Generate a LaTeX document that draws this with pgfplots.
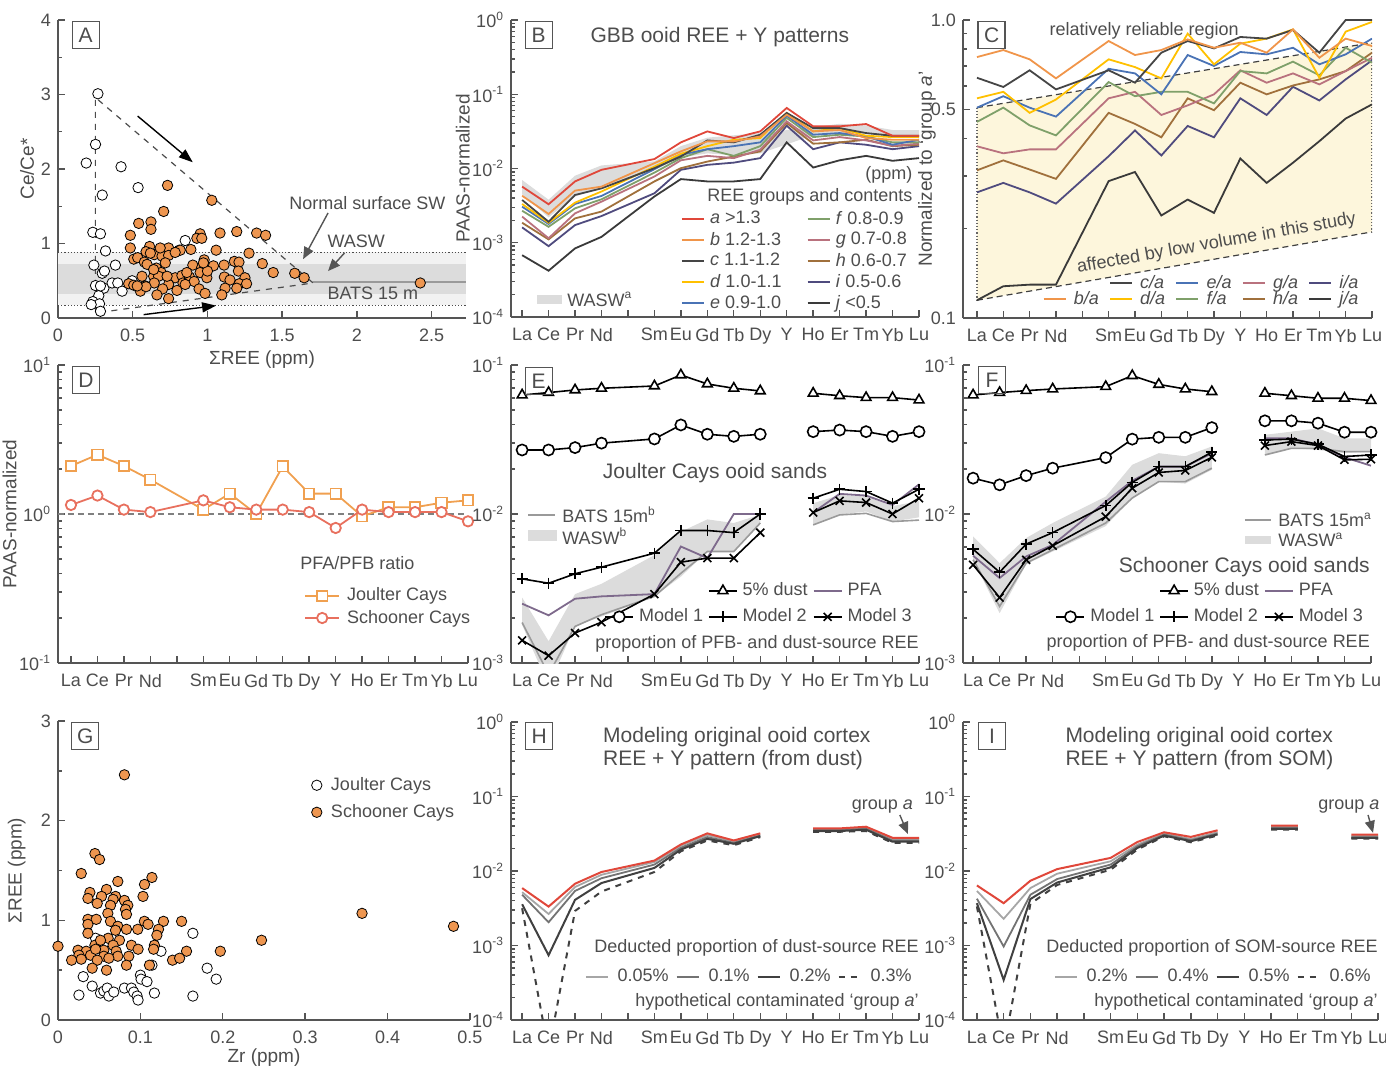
\documentclass[border=0pt]{standalone}
\usepackage{fontspec}
\setmainfont{Liberation Sans}
\usepackage{pgfplots}
\pgfplotsset{compat=1.18}
\usetikzlibrary{arrows.meta}
\definecolor{txt}{HTML}{4D4D4D}
\definecolor{axl}{HTML}{555555}
\definecolor{ca}{HTML}{E0473A}
\definecolor{cb}{HTML}{F0954A}
\definecolor{cc}{HTML}{454545}
\definecolor{cd}{HTML}{FFC000}
\definecolor{ce}{HTML}{4A73B5}
\definecolor{cf}{HTML}{7FA06A}
\definecolor{cg}{HTML}{B9727E}
\definecolor{ch}{HTML}{A0703C}
\definecolor{ci}{HTML}{4F4B7E}
\definecolor{cj}{HTML}{3A3A3A}
\definecolor{wasw}{HTML}{DCDCDC}
\definecolor{cream}{HTML}{FDF6DC}
\definecolor{orng}{HTML}{EE9650}
\definecolor{jc}{HTML}{F0A050}
\definecolor{sc}{HTML}{E8705E}
\definecolor{pfa}{HTML}{7E6A8C}
\definecolor{bats}{HTML}{9A9A9A}

\tikzset{
  tag/.style={draw=axl, line width=0.7pt, minimum size=13.5pt, inner sep=0pt, font=\fontsize{10.5}{12}\selectfont, text=txt},
  note/.style={font=\fontsize{9}{10}\selectfont, text=txt, inner sep=0pt},
  big/.style={font=\fontsize{10.5}{11.5}\selectfont, text=txt, inner sep=0pt},
}
\pgfplotsset{
  /pgf/number format/assume math mode=true,
  panel/.style={scale only axis, clip mode=individual, anchor=north west,
    axis x line*=bottom, axis y line*=left,
    axis line style={draw=axl, line width=0.9pt},
    every tick/.style={draw=axl, line width=0.7pt},
    major tick length=3.5pt, minor tick length=2pt,
    tick label style={font=\fontsize{9}{10}\selectfont, text=txt},
    x tick label style={yshift=-2pt},
    label style={font=\fontsize{9.5}{11}\selectfont, text=txt},
    legend style={draw=none, fill=none, font=\fontsize{9}{10}\selectfont, text=txt,
      nodes={inner sep=0.5pt}, row sep=1.5pt},
    legend cell align=left},
  ylab/.style={ylabel style={at={(axis description cs:#1,0.5)}, anchor=center}},
  xlab/.style={xlabel style={at={(axis description cs:0.5,#1)}, anchor=center}},
  ree/.style={panel, xmax=15, xtick={0,...,15},
    xticklabels={La,Ce,Pr,Nd,,Sm,Eu,Gd,Tb,Dy,Y,Ho,Er,Tm,Yb,Lu},
    unbounded coords=jump,
    yticklabel={10\textsuperscript{\pgfmathparse{int(round(\tick/ln(10)))}\pgfmathresult}}},
  shortleg/.style={legend image code/.code={\draw[##1] (0pt,0pt) -- (11pt,0pt);}},
  medleg/.style={legend image code/.code={\draw[mark repeat=2,mark phase=2,##1] plot coordinates {(0pt,0pt)(7pt,0pt)(14pt,0pt)};}},
  sw/.style={only marks, mark=*, mark size=2.6pt, mark options={draw=black, line width=0.6pt}},
  blk/.style={black, line width=0.8pt, mark size=2.8pt, mark options={solid, fill=white}},
}

\begin{document}
\begin{tikzpicture}
\useasboundingbox (0,0) rectangle (693pt,-534pt);

% ---------------- A ----------------
\begin{axis}[panel, at={(29pt,-10pt)}, width=204pt, height=149pt,
  xmin=0, xmax=2.73, ymin=0, ymax=4,
  xtick={0,0.5,1,1.5,2,2.5}, ytick={0,1,2,3,4}, minor y tick num=1,
  xlabel={ΣREE (ppm)}, ylabel={Ce/Ce*}, ylab=-0.076, xlab=-0.141]
\addplot[fill=black!5, draw=none] coordinates {(0,0.17)(2.73,0.17)(2.73,0.883)(0,0.883)} -- cycle;
\addplot[fill=wasw, draw=none] coordinates {(0,0.327)(2.73,0.327)(2.73,0.73)(0,0.73)} -- cycle;
\addplot[densely dotted, black!70, line width=0.6pt] coordinates {(0,0.883)(2.73,0.883)};
\addplot[densely dotted, black!70, line width=0.6pt] coordinates {(0,0.17)(2.73,0.17)};
\addplot[bats, line width=0.8pt] coordinates {(1.707,0.48)(2.73,0.48)};
\addplot[dashed, black!70, line width=0.6pt] coordinates {(0.25,0.11)(0.25,2.96)(1.707,0.47)(0.28,0.075)};
\addplot[sw, mark options={fill=white}] coordinates {
(0.267,3.01)(0.251,2.33)(0.189,2.08)(0.422,2.03)(0.296,1.65)(0.536,1.75)(0.233,1.15)(0.284,1.13)
(0.318,0.90)(0.851,1.04)(0.811,0.91)(0.24,0.71)(0.384,0.71)(0.296,0.60)(0.311,0.63)(0.251,0.435)
(0.307,0.40)(0.362,0.47)(0.40,0.47)(0.429,0.36)(0.496,0.50)(0.273,0.30)(0.233,0.22)(0.278,0.19)
(0.222,0.18)(0.284,0.09)(0.284,0.43)};
\addplot[sw, mark options={fill=orng}] coordinates {
(0.733,1.78)(1.029,1.58)(0.707,1.43)(0.54,1.27)(0.622,1.29)(0.622,1.19)(0.484,1.11)(0.951,1.13)
(0.929,1.07)(0.962,1.07)(1.084,1.14)(1.196,1.16)(1.329,1.14)(1.389,1.11)(0.484,0.94)(0.613,0.96)
(0.74,0.94)(0.589,0.89)(0.644,0.85)(0.818,0.91)(0.889,0.92)(1.058,0.91)(0.507,0.79)(0.533,0.81)
(0.578,0.75)(0.696,0.83)(0.74,0.84)(0.784,0.88)(1.278,0.87)(1.18,0.76)(1.211,0.75)(0.978,0.78)
(0.902,0.71)(0.962,0.68)(1.04,0.70)(1.111,0.71)(1.367,0.73)(0.658,0.67)(0.596,0.72)(0.69,0.61)
(0.951,0.61)(1.207,0.63)(1.44,0.61)(1.584,0.60)(1.647,0.54)(0.562,0.56)(0.64,0.56)(0.673,0.56)
(0.784,0.54)(0.829,0.57)(0.88,0.55)(0.996,0.54)(1.113,0.55)(1.151,0.51)(1.251,0.54)(0.473,0.46)
(0.507,0.44)(0.584,0.43)(0.644,0.47)(0.74,0.45)(0.836,0.47)(0.911,0.49)(1.213,0.46)(1.262,0.46)
(0.551,0.36)(0.589,0.42)(0.70,0.39)(0.796,0.37)(0.944,0.39)(1.118,0.40)(1.196,0.40)(0.662,0.31)
(0.984,0.33)(1.096,0.31)(0.74,0.26)(2.424,0.47)(0.618,0.87)(0.684,0.94)(0.718,0.74)(0.862,0.61)
(1.0,0.63)(0.64,0.65)(0.73,0.56)(0.53,0.43)(0.851,0.45)(0.973,0.74)};
\draw[-{Triangle[length=7pt,width=5pt]}, line width=0.7pt] (axis cs:0.533,2.71) -- (axis cs:0.902,2.09);
\draw[-{Triangle[length=7pt,width=5pt]}, line width=0.7pt] (axis cs:0.573,0.045) -- (axis cs:1.058,0.166);
\draw[-{Triangle[length=6pt,width=5pt]}, line width=0.7pt, axl] (axis cs:1.807,1.41) -- (axis cs:1.64,0.79);
\draw[-{Triangle[length=6pt,width=5pt]}, line width=0.7pt, axl] (axis cs:1.918,0.875) -- (axis cs:1.807,0.63);
\node[note] at (axis cs:2.07,1.54) {Normal surface SW};
\node[note] at (axis cs:1.996,1.03) {WASW};
\node[note] at (axis cs:2.107,0.33) {BATS 15 m};
\node[tag] at (rel axis cs:0.068,0.95) {A};
\end{axis}

% ---------------- B ----------------
\begin{axis}[ree, shortleg, ymode=log, at={(255.5pt,-10pt)}, width=204pt, height=148.5pt,
  xmin=-0.42, ymin=1e-4, ymax=1, ylabel={PAAS-normalized}, ylab=-0.118,
  legend columns=2, legend style={at={(0.40,0.375)}, anchor=north west,
    /tikz/every even column/.append style={column sep=12pt},
    /tikz/every odd column/.append style={column sep=2pt}}]
\addplot[fill=wasw, draw=none, forget plot] coordinates {(0,7e-3)(1,3.8e-3)(2,8e-3)(3,0.011)(5,0.0125)(6,0.02)(7,0.026)(8,0.028)(9,0.03)(11,0.036)(12,0.04)(13,0.038)(14,0.033)(15,0.033)
(15,0.028)(14,0.027)(13,0.03)(12,0.03)(11,0.028)(9,0.016)(8,0.015)(7,0.016)(6,0.014)(5,0.0095)(3,5.5e-3)(2,4.2e-3)(1,2.2e-3)(0,4.5e-3)} -- cycle;
\addplot[cj, line width=0.9pt, forget plot] coordinates {(0,6.8e-4)(1,4.2e-4)(2,8.4e-4)(3,1.2e-3)(5,4.2e-3)(6,7.2e-3)(7,6.7e-3)(8,6.7e-3)(9,7.2e-3)(10,0.0225)(11,0.0103)(12,0.0129)(13,0.0148)(14,0.0127)(15,0.0138)};
\addplot[ci, line width=0.9pt, forget plot] coordinates {(0,1.61e-3)(1,9.0e-4)(2,1.73e-3)(3,2.29e-3)(5,4.64e-3)(6,9.6e-3)(7,0.0112)(8,0.012)(9,0.0138)(10,0.0377)(11,0.0182)(12,0.0225)(13,0.0209)(14,0.0182)(15,0.02)};
\addplot[ch, line width=0.9pt, forget plot] coordinates {(0,1.86e-3)(1,1.11e-3)(2,2.13e-3)(3,2.63e-3)(5,6.7e-3)(6,0.0101)(7,0.0124)(8,0.0145)(9,0.017)(10,0.041)(11,0.0216)(12,0.0225)(13,0.0244)(14,0.02)(15,0.0209)};
\addplot[cg, line width=0.9pt, forget plot] coordinates {(0,2.25e-3)(1,1.15e-3)(2,2.49e-3)(3,3.58e-3)(5,7.8e-3)(6,0.0129)(7,0.0148)(8,0.0138)(9,0.0179)(10,0.0432)(11,0.0239)(12,0.0265)(13,0.0239)(14,0.0202)(15,0.0216)};
\addplot[cf, line width=0.9pt, forget plot] coordinates {(0,2.7e-3)(1,1.64e-3)(2,2.91e-3)(3,3.85e-3)(5,8.8e-3)(6,0.0138)(7,0.0182)(8,0.0148)(9,0.02)(10,0.048)(11,0.0265)(12,0.0285)(13,0.027)(14,0.0225)(15,0.0225)};
\addplot[ce, line width=0.9pt, forget plot] coordinates {(0,3.06e-3)(1,1.79e-3)(2,3.33e-3)(3,4.27e-3)(5,0.0098)(6,0.0153)(7,0.0182)(8,0.02)(9,0.0225)(10,0.0515)(11,0.0285)(12,0.03)(13,0.027)(14,0.0209)(15,0.0244)};
\addplot[cd, line width=0.9pt, forget plot] coordinates {(0,3.33e-3)(1,1.86e-3)(2,3.47e-3)(3,4.9e-3)(5,0.0106)(6,0.0158)(7,0.02)(8,0.0244)(9,0.0257)(10,0.056)(11,0.0316)(12,0.035)(13,0.0276)(14,0.0265)(15,0.0265)};
\addplot[cc, line width=0.9pt, forget plot] coordinates {(0,3.77e-3)(1,1.92e-3)(2,4.4e-3)(3,5.4e-3)(5,0.0101)(6,0.0145)(7,0.0239)(8,0.0225)(9,0.0285)(10,0.056)(11,0.035)(12,0.035)(13,0.03)(14,0.0276)(15,0.0276)};
\addplot[cb, line width=0.9pt, forget plot] coordinates {(0,4.3e-3)(1,2.44e-3)(2,5.04e-3)(3,5.7e-3)(5,0.0118)(6,0.017)(7,0.0232)(8,0.0232)(9,0.027)(10,0.0531)(11,0.0316)(12,0.033)(13,0.0257)(14,0.0244)(15,0.0244)};
\addplot[ca, line width=0.9pt, forget plot] coordinates {(0,5.7e-3)(1,3.3e-3)(2,6.7e-3)(3,9.6e-3)(5,0.0134)(6,0.0225)(7,0.0316)(8,0.0257)(9,0.0316)(10,0.0654)(11,0.037)(12,0.037)(13,0.0397)(14,0.0276)(15,0.0276)};
\addlegendimage{ca, line width=1.2pt}\addlegendentry{\textit{a} >1.3}
\addlegendimage{cf, line width=1.2pt}\addlegendentry{\textit{f} 0.8-0.9}
\addlegendimage{cb, line width=1.2pt}\addlegendentry{\textit{b} 1.2-1.3}
\addlegendimage{cg, line width=1.2pt}\addlegendentry{\textit{g} 0.7-0.8}
\addlegendimage{cc, line width=1.2pt}\addlegendentry{\textit{c} 1.1-1.2}
\addlegendimage{ch, line width=1.2pt}\addlegendentry{\textit{h} 0.6-0.7}
\addlegendimage{cd, line width=1.2pt}\addlegendentry{\textit{d} 1.0-1.1}
\addlegendimage{ci, line width=1.2pt}\addlegendentry{\textit{i} 0.5-0.6}
\addlegendimage{ce, line width=1.2pt}\addlegendentry{\textit{e} 0.9-1.0}
\addlegendimage{cj, line width=1.2pt}\addlegendentry{\textit{j} <0.5}
\node[big] at (rel axis cs:0.512,0.943) {GBB ooid REE + Y patterns};
\node[note, anchor=east] at (rel axis cs:0.985,0.48) {(ppm)};
\node[note, anchor=east] at (rel axis cs:0.985,0.406) {REE groups and contents};
\fill[wasw] (rel axis cs:0.064,0.044) rectangle (rel axis cs:0.125,0.074);
\node[note, anchor=west] at (rel axis cs:0.137,0.059) {WASW\textsuperscript{a}};
\node[tag] at (rel axis cs:0.068,0.95) {B};
\end{axis}

% ---------------- C ----------------
\begin{axis}[ree, shortleg, ymode=log, at={(481.5pt,-10pt)}, width=204.5pt, height=149pt,
  xmin=-0.53, ymin=0.1, ymax=1, ytick={0.1,0.5,1}, yticklabels={0.1,0.5,1.0},
  minor ytick={0.2,0.3,0.4,0.6,0.7,0.8,0.9}, ylabel={Normalized to ‘group \textit{a}’}, ylab=-0.088,
  legend columns=5, legend style={at={(0.985,0.018)}, anchor=south east, row sep=-1pt,
    /tikz/every even column/.append style={column sep=4.5pt},
    /tikz/every odd column/.append style={column sep=3pt}}]
\addplot[fill=cream, draw=none, forget plot] coordinates {(0,0.508)(15,0.839)(15,0.1945)(0,0.1147)} -- cycle;
\addplot[densely dashed, black!75, line width=0.6pt, forget plot] coordinates {(0,0.508)(15,0.839)};
\addplot[densely dashed, black!75, line width=0.6pt, forget plot] coordinates {(0,0.1147)(15,0.1945)};
\addplot[densely dotted, black!60, line width=0.6pt, forget plot] coordinates {(0,0.508)(0,0.1147)};
\addplot[densely dotted, black!60, line width=0.6pt, forget plot] coordinates {(15,0.839)(15,0.1945)};
\addplot[cj, line width=0.9pt, forget plot] coordinates {(0,0.1147)(1,0.1278)(2,0.1294)(3,0.1294)(5,0.288)(6,0.309)(7,0.2208)(8,0.2497)(9,0.2253)(10,0.343)(11,0.284)(12,0.332)(13,0.392)(14,0.467)(15,0.521)};
\addplot[ci, line width=0.9pt, forget plot] coordinates {(0,0.264)(1,0.284)(2,0.264)(3,0.242)(5,0.349)(6,0.426)(7,0.351)(8,0.441)(9,0.404)(10,0.546)(11,0.480)(12,0.597)(13,0.537)(14,0.632)(15,0.732)};
\addplot[ch, line width=0.9pt, forget plot] coordinates {(0,0.313)(1,0.338)(2,0.315)(3,0.293)(5,0.488)(6,0.448)(7,0.404)(8,0.546)(9,0.498)(10,0.616)(11,0.563)(12,0.603)(13,0.632)(14,0.674)(15,0.777)};
\addplot[cg, line width=0.9pt, forget plot] coordinates {(0,0.377)(1,0.357)(2,0.368)(3,0.368)(5,0.546)(6,0.574)(7,0.480)(8,0.517)(9,0.563)(10,0.678)(11,0.616)(12,0.662)(13,0.608)(14,0.674)(15,0.747)};
\addplot[cf, line width=0.9pt, forget plot] coordinates {(0,0.455)(1,0.508)(2,0.443)(3,0.410)(5,0.619)(6,0.555)(7,0.574)(8,0.574)(9,0.525)(10,0.674)(11,0.662)(12,0.725)(13,0.652)(14,0.807)(15,0.719)};
\addplot[ce, line width=0.9pt, forget plot] coordinates {(0,0.508)(1,0.555)(2,0.508)(3,0.474)(5,0.686)(6,0.662)(7,0.563)(8,0.763)(9,0.701)(10,0.781)(11,0.767)(12,0.807)(13,0.710)(14,0.767)(15,0.866)};
\addplot[cd, line width=0.9pt, forget plot] coordinates {(0,0.546)(1,0.574)(2,0.488)(3,0.541)(5,0.738)(6,0.695)(7,0.637)(8,0.900)(9,0.710)(10,0.833)(11,0.866)(12,0.930)(13,0.640)(14,0.914)(15,0.985)};
\addplot[cc, line width=0.9pt, forget plot] coordinates {(0,0.640)(1,0.596)(2,0.678)(3,0.585)(5,0.678)(6,0.616)(7,0.777)(8,0.850)(9,0.803)(10,0.877)(11,0.866)(12,0.926)(13,0.777)(14,1.0)(15,1.0)};
\addplot[cb, line width=0.9pt, forget plot] coordinates {(0,0.751)(1,0.793)(2,0.738)(3,0.637)(5,0.850)(6,0.763)(7,0.793)(8,0.861)(9,0.807)(10,0.839)(11,0.777)(12,0.930)(13,0.747)(14,0.866)(15,0.818)};
\addlegendimage{empty legend}\addlegendentry{}
\addlegendimage{cc, line width=1.2pt}\addlegendentry{\textit{c/a}}
\addlegendimage{ce, line width=1.2pt}\addlegendentry{\textit{e/a}}
\addlegendimage{cg, line width=1.2pt}\addlegendentry{\textit{g/a}}
\addlegendimage{ci, line width=1.2pt}\addlegendentry{\textit{i/a}}
\addlegendimage{cb, line width=1.2pt}\addlegendentry{\textit{b/a}}
\addlegendimage{cd, line width=1.2pt}\addlegendentry{\textit{d/a}}
\addlegendimage{cf, line width=1.2pt}\addlegendentry{\textit{f/a}}
\addlegendimage{ch, line width=1.2pt}\addlegendentry{\textit{h/a}}
\addlegendimage{cj, line width=1.2pt}\addlegendentry{\textit{j/a}}
\node[note] at (rel axis cs:0.443,0.963) {relatively reliable region};
\node[note, rotate=10] at (rel axis cs:0.62,0.25) {affected by low volume in this study};
\node[tag] at (rel axis cs:0.07,0.95) {C};
\end{axis}

% ---------------- D ----------------
\begin{axis}[ree, ymode=log, at={(29pt,-182.5pt)}, width=205pt, height=149pt,
  xmin=-0.49, ymin=0.1, ymax=10, ylabel={PAAS-normalized}, ylab=-0.118,
  legend style={at={(0.585,0.27)}, anchor=north west, row sep=2pt,
    /tikz/every odd column/.append style={column sep=3pt}}]
\addplot[densely dashed, gray, line width=0.7pt, forget plot] coordinates {(-0.49,1)(15,1)};
\addplot[jc, line width=0.9pt, mark=square*, mark size=2.6pt, mark options={fill=white, solid}] coordinates {(0,2.10)(1,2.50)(2,2.10)(3,1.70)(5,1.07)(6,1.37)(7,1.0)(8,2.09)(9,1.37)(10,1.37)(11,0.965)(12,1.11)(13,1.11)(14,1.19)(15,1.235)};
\addlegendentry{Joulter Cays}
\addplot[sc, line width=0.9pt, mark=*, mark size=2.6pt, mark options={fill=white, solid}] coordinates {(0,1.15)(1,1.33)(2,1.07)(3,1.03)(5,1.235)(6,1.11)(7,1.07)(8,1.07)(9,1.03)(10,0.806)(11,1.07)(12,1.03)(13,1.03)(14,1.03)(15,0.893)};
\addlegendentry{Schooner Cays}
\node[note] at (rel axis cs:0.73,0.336) {PFA/PFB ratio};
\node[tag] at (rel axis cs:0.068,0.95) {D};
\end{axis}

% ---------------- E ----------------
\begin{axis}[ree, medleg, ymode=log, at={(255.5pt,-182.5pt)}, width=204pt, height=149pt,
  xmin=-0.42, ymin=1e-3, ymax=0.1,
  legend columns=3, legend style={at={(1,0.11)}, anchor=south east, row sep=4pt,
    /tikz/every even column/.append style={column sep=2pt},
    /tikz/every odd column/.append style={column sep=2pt}}]
\addplot[fill=wasw, draw=none, forget plot] coordinates {(0,2.75e-3)(1,1.4e-3)(2,2.9e-3)(3,3.4e-3)(5,5.3e-3)(6,7.6e-3)(7,9.2e-3)(8,8.7e-3)(9,9.9e-3)(9,8.6e-3)(8,5.6e-3)(7,5.6e-3)(6,3.8e-3)(5,2.8e-3)(3,2.05e-3)(2,1.77e-3)(1,7e-4)(0,1.8e-3)} -- cycle;
\addplot[fill=wasw, draw=none, forget plot] coordinates {(11,0.0118)(12,0.0134)(13,0.0131)(14,0.0113)(15,0.0122)(15,9.5e-3)(14,8.9e-3)(13,0.0104)(12,9.9e-3)(11,8.5e-3)} -- cycle;
\addplot[bats, line width=0.8pt, forget plot] coordinates {(0,1.87e-3)(1,8.4e-4)(2,1.76e-3)(3,2.11e-3)(5,2.8e-3)(6,4.0e-3)(7,5.6e-3)(8,5.6e-3)(9,8.7e-3)(10,nan)(11,8.45e-3)(12,9.86e-3)(13,0.0101)(14,8.9e-3)(15,9.1e-3)};
\addplot[pfa, line width=0.9pt, forget plot] coordinates {(0,2.5e-3)(1,2.09e-3)(2,2.7e-3)(3,2.8e-3)(5,2.9e-3)(6,6.05e-3)(7,5.06e-3)(8,0.01)(9,0.01)(10,nan)(11,0.01023)(12,0.01365)(13,0.0133)(14,0.0115)(15,0.0158)};
\addplot[blk, mark=triangle*, forget plot] coordinates {(0,0.0629)(1,0.0653)(2,0.068)(3,0.0698)(5,0.0723)(6,0.0857)(7,0.0746)(8,0.0698)(9,0.067)(10,nan)(11,0.0646)(12,0.0622)(13,0.0604)(14,0.0604)(15,0.0582)};
\addplot[blk, mark=*, forget plot] coordinates {(0,0.0269)(1,0.0269)(2,0.0279)(3,0.0299)(5,0.0319)(6,0.0396)(7,0.0343)(8,0.0332)(9,0.0343)(10,nan)(11,0.0357)(12,0.0366)(13,0.0357)(14,0.0332)(15,0.0357)};
\addplot[blk, mark=+, forget plot] coordinates {(0,3.67e-3)(1,3.43e-3)(2,3.97e-3)(3,4.4e-3)(5,5.46e-3)(6,7.75e-3)(7,7.75e-3)(8,7.5e-3)(9,0.01)(10,nan)(11,0.01276)(12,0.01466)(13,0.01415)(14,0.01183)(15,0.01466)};
\addplot[blk, mark=x, forget plot] coordinates {(0,1.42e-3)(1,1.12e-3)(2,1.59e-3)(3,1.88e-3)(5,2.9e-3)(6,4.75e-3)(7,5.06e-3)(8,5.06e-3)(9,7.5e-3)(10,nan)(11,0.01023)(12,0.01225)(13,0.01194)(14,0.01)(15,0.01276)};
\addlegendimage{empty legend}\addlegendentry{}
\addlegendimage{blk, mark=triangle*}\addlegendentry{5\% dust}
\addlegendimage{pfa, line width=0.9pt}\addlegendentry{PFA}
\addlegendimage{blk, mark=*}\addlegendentry{Model 1}
\addlegendimage{blk, mark=+}\addlegendentry{Model 2}
\addlegendimage{blk, mark=x}\addlegendentry{Model 3}
\node[big] at (rel axis cs:0.5,0.638) {Joulter Cays ooid sands};
\draw[bats, line width=0.8pt] (rel axis cs:0.042,0.497) -- (rel axis cs:0.108,0.497);
\node[note, anchor=west] at (rel axis cs:0.125,0.497) {BATS 15m\textsuperscript{b}};
\fill[wasw] (rel axis cs:0.042,0.41) rectangle (rel axis cs:0.112,0.445);
\node[note, anchor=west] at (rel axis cs:0.125,0.425) {WASW\textsuperscript{b}};
\node[note, anchor=east] at (rel axis cs:1,0.064) {proportion of PFB- and dust-source REE};
\node[tag] at (rel axis cs:0.068,0.946) {E};
\end{axis}

% ---------------- F ----------------
\begin{axis}[ree, medleg, ymode=log, at={(481.5pt,-182.5pt)}, width=204pt, height=149pt,
  xmin=-0.38, ymin=1e-3, ymax=0.1,
  legend columns=3, legend style={at={(0.998,0.11)}, anchor=south east, row sep=4pt,
    /tikz/every even column/.append style={column sep=2pt},
    /tikz/every odd column/.append style={column sep=2pt}}]
\addplot[fill=wasw, draw=none, forget plot] coordinates {(0,7.07e-3)(1,4.68e-3)(2,6.9e-3)(3,8.7e-3)(5,0.0131)(6,0.0214)(7,0.0256)(8,0.0244)(9,0.0284)(9,0.0198)(8,0.016)(7,0.0165)(6,0.0128)(5,8.3e-3)(3,5.6e-3)(2,4.6e-3)(1,2.16e-3)(0,4.93e-3)} -- cycle;
\addplot[fill=wasw, draw=none, forget plot] coordinates {(11,0.034)(12,0.0357)(13,0.0376)(14,0.0322)(15,0.0322)(15,0.0262)(14,0.0256)(13,0.0269)(12,0.0276)(11,0.0249)} -- cycle;
\addplot[bats, line width=0.8pt, forget plot] coordinates {(0,4.93e-3)(1,2.4e-3)(2,4.68e-3)(3,5.75e-3)(5,8.7e-3)(6,0.0128)(7,0.0165)(8,0.0165)(9,0.0203)(10,nan)(11,0.0249)(12,0.0276)(13,0.0276)(14,0.0262)(15,0.0262)};
\addplot[pfa, line width=0.9pt, forget plot] coordinates {(0,5.25e-3)(1,3.72e-3)(2,5.19e-3)(3,6.2e-3)(5,0.0121)(6,0.0167)(7,0.0208)(8,0.0208)(9,0.0256)(10,nan)(11,0.0322)(12,0.0322)(13,0.0292)(14,0.024)(15,0.0211)};
\addplot[blk, mark=triangle*, forget plot] coordinates {(0,0.0629)(1,0.0653)(2,0.0673)(3,0.069)(5,0.0716)(6,0.0848)(7,0.0741)(8,0.069)(9,0.0662)(10,nan)(11,0.0646)(12,0.0622)(13,0.0598)(14,0.0598)(15,0.0577)};
\addplot[blk, mark=*, forget plot] coordinates {(0,0.0174)(1,0.0157)(2,0.0181)(3,0.0203)(5,0.0239)(6,0.0318)(7,0.0327)(8,0.0327)(9,0.038)(10,nan)(11,0.0422)(12,0.0422)(13,0.0407)(14,0.0354)(15,0.0354)};
\addplot[blk, mark=+, forget plot] coordinates {(0,5.8e-3)(1,4.07e-3)(2,6.28e-3)(3,7.5e-3)(5,0.0114)(6,0.0163)(7,0.0208)(8,0.0208)(9,0.026)(10,nan)(11,0.0314)(12,0.0318)(13,0.0294)(14,0.0243)(15,0.0249)};
\addplot[blk, mark=x, forget plot] coordinates {(0,4.56e-3)(1,2.75e-3)(2,4.93e-3)(3,6.12e-3)(5,9.6e-3)(6,0.0149)(7,0.019)(8,0.0196)(9,0.024)(10,nan)(11,0.0288)(12,0.0306)(13,0.0288)(14,0.0231)(15,0.0233)};
\addlegendimage{empty legend}\addlegendentry{}
\addlegendimage{blk, mark=triangle*}\addlegendentry{5\% dust}
\addlegendimage{pfa, line width=0.9pt}\addlegendentry{PFA}
\addlegendimage{blk, mark=*}\addlegendentry{Model 1}
\addlegendimage{blk, mark=+}\addlegendentry{Model 2}
\addlegendimage{blk, mark=x}\addlegendentry{Model 3}
\node[big, anchor=east] at (rel axis cs:0.998,0.322) {Schooner Cays ooid sands};
\draw[bats, line width=0.8pt] (rel axis cs:0.691,0.48) -- (rel axis cs:0.755,0.48);
\node[note, anchor=west] at (rel axis cs:0.772,0.48) {BATS 15m\textsuperscript{a}};
\fill[wasw] (rel axis cs:0.691,0.40) rectangle (rel axis cs:0.755,0.426);
\node[note, anchor=west] at (rel axis cs:0.772,0.413) {WASW\textsuperscript{a}};
\node[note, anchor=east] at (rel axis cs:0.998,0.068) {proportion of PFB- and dust-source REE};
\node[tag] at (rel axis cs:0.071,0.95) {F};
\end{axis}

% ---------------- G ----------------
\begin{axis}[panel, at={(29pt,-360.5pt)}, width=206pt, height=149.5pt,
  xmin=0, xmax=0.5, ymin=0, ymax=3, xtick={0,0.1,0.2,0.3,0.4,0.5}, ytick={0,1,2,3}, minor y tick num=1,
  xlabel={Zr (ppm)}, ylabel={ΣREE (ppm)}, ylab=-0.1, xlab=-0.127,
  legend style={at={(0.6,0.83)}, anchor=north west, row sep=4.5pt,
    /tikz/every odd column/.append style={column sep=4pt}}]
\addplot[sw, mark options={fill=white}] coordinates {
(0.1637,0.87)(0.0456,0.82)(0.125,0.69)(0.114,0.55)(0.181,0.52)(0.192,0.41)(0.1,0.45)(0.1008,0.41)
(0.108,0.385)(0.0306,0.435)(0.0415,0.34)(0.0254,0.25)(0.0516,0.27)(0.0556,0.29)(0.0597,0.32)(0.0617,0.24)
(0.0677,0.28)(0.0806,0.32)(0.0891,0.32)(0.0919,0.28)(0.096,0.24)(0.0972,0.20)(0.117,0.27)(0.1637,0.24)};
\addlegendentry{Joulter Cays}
\addplot[sw, mark options={fill=orng}] coordinates {
(0.0806,2.46)(0.0448,1.67)(0.0504,1.61)(0.0282,1.47)(0.114,1.43)(0.0726,1.39)(0.105,1.36)(0.0387,1.28)
(0.0589,1.31)(0.0363,1.22)(0.0528,1.24)(0.0698,1.24)(0.0669,1.21)(0.1032,1.24)(0.0806,1.20)(0.0476,1.17)
(0.0637,1.15)(0.0847,1.15)(0.0819,1.11)(0.0605,1.07)(0.0831,1.06)(0.0363,1.01)(0.0464,1.01)(0.1048,0.99)
(0.1093,0.96)(0.128,0.99)(0.150,0.99)(0.0363,0.96)(0.0637,0.99)(0.0726,0.94)(0.0698,0.90)(0.0968,0.91)
(0.0831,0.91)(0.122,0.91)(0.0363,0.87)(0.12,0.85)(0.0609,0.82)(0.0746,0.80)(0.0448,0.75)(0.0669,0.75)
(0.0891,0.75)(0.117,0.75)(0,0.74)(0.0242,0.70)(0.0343,0.69)(0.0556,0.70)(0.0706,0.69)(0.0972,0.71)
(0.116,0.71)(0.156,0.69)(0.197,0.69)(0.0254,0.65)(0.0395,0.65)(0.0556,0.64)(0.0726,0.64)(0.0859,0.64)
(0.0282,0.61)(0.0617,0.62)(0.0165,0.60)(0.0476,0.60)(0.139,0.60)(0.1476,0.62)(0.0831,0.55)(0.111,0.55)
(0.0415,0.52)(0.0589,0.50)(0.247,0.80)(0.369,1.07)(0.48,0.94)(0.0456,0.71)(0.0516,0.80)};
\addlegendentry{Schooner Cays}
\node[tag] at (rel axis cs:0.066,0.95) {G};
\end{axis}

% ---------------- H ----------------
\begin{axis}[ree, shortleg, ymode=log, at={(255.5pt,-361pt)}, width=204pt, height=149pt,
  xmin=-0.42, ymin=1e-4, ymax=1,
  legend columns=4, legend style={at={(1,0.145)}, anchor=east,
    /tikz/every even column/.append style={column sep=3pt},
    /tikz/every odd column/.append style={column sep=4pt}}]
\addplot[black!35, line width=0.9pt] coordinates {(0,5.2e-3)(1,2.65e-3)(2,6.1e-3)(3,8.9e-3)(5,0.0132)(6,0.0218)(7,0.0303)(8,0.0251)(9,0.031)(10,nan)(11,0.0365)(12,0.0365)(13,0.038)(14,0.027)(15,0.027)};
\addlegendentry{0.05\%}
\addplot[black!55, line width=0.9pt] coordinates {(0,4.8e-3)(1,2.05e-3)(2,5.4e-3)(3,8.0e-3)(5,0.0122)(6,0.0205)(7,0.0285)(8,0.0239)(9,0.0299)(10,nan)(11,0.0355)(12,0.0355)(13,0.0369)(14,0.0256)(15,0.0256)};
\addlegendentry{0.1\%}
\addplot[black!75, line width=1pt] coordinates {(0,3.58e-3)(1,7.4e-4)(2,4.1e-3)(3,6.9e-3)(5,0.011)(6,0.0194)(7,0.027)(8,0.0232)(9,0.0294)(10,nan)(11,0.0344)(12,0.0344)(13,0.0358)(14,0.0247)(15,0.0247)};
\addlegendentry{0.2\%}
\addplot[black!75, dashed, line width=1pt] coordinates {(0,3.16e-3)(1,3.8e-5)(2,2.91e-3)(3,5.3e-3)(5,9.7e-3)(6,0.0184)(7,0.0257)(8,0.0222)(9,0.0285)(10,nan)(11,0.0336)(12,0.0336)(13,0.0344)(14,0.0239)(15,0.0239)};
\addlegendentry{0.3\%}
\addplot[ca, line width=1pt, forget plot] coordinates {(0,5.9e-3)(1,3.33e-3)(2,6.75e-3)(3,9.7e-3)(5,0.0138)(6,0.0227)(7,0.032)(8,0.0257)(9,0.032)(10,nan)(11,0.0373)(12,0.0373)(13,0.0393)(14,0.0279)(15,0.0279)};
\node[big, align=left, anchor=north west] at (rel axis cs:0.225,0.985) {Modeling original ooid cortex\\REE + Y pattern (from dust)};
\node[note] at (rel axis cs:0.91,0.715) {group \textit{a}};
\draw[-{Triangle[length=6pt,width=5pt]}, line width=0.7pt, axl] (rel axis cs:0.953,0.688) -- (rel axis cs:0.973,0.624);
\node[note, anchor=east] at (rel axis cs:1,0.242) {Deducted proportion of dust-source REE};
\node[note, anchor=east] at (rel axis cs:1,0.06) {hypothetical contaminated ‘group \textit{a}’};
\node[tag] at (rel axis cs:0.069,0.953) {H};
\end{axis}

% ---------------- I ----------------
\begin{axis}[ree, shortleg, ymode=log, at={(481.5pt,-361pt)}, width=207.5pt, height=149pt,
  xmin=-0.52, ymin=1e-4, ymax=1,
  legend columns=4, legend style={at={(1,0.145)}, anchor=east,
    /tikz/every even column/.append style={column sep=3pt},
    /tikz/every odd column/.append style={column sep=4pt}}]
\addplot[black!35, line width=0.9pt] coordinates {(0,5.4e-3)(1,2.28e-3)(2,5.9e-3)(3,9.2e-3)(5,0.0135)(6,0.0226)(7,0.0318)(8,0.0269)(9,0.0331)(10,nan)(11,0.039)(12,0.039)(13,nan)(14,0.0295)(15,0.0295)};
\addlegendentry{0.2\%}
\addplot[black!55, line width=0.9pt] coordinates {(0,4.25e-3)(1,9.7e-4)(2,4.8e-3)(3,7.8e-3)(5,0.0122)(6,0.0215)(7,0.0308)(8,0.0259)(9,0.0318)(10,nan)(11,0.0379)(12,0.0379)(13,nan)(14,0.0284)(15,0.0284)};
\addlegendentry{0.4\%}
\addplot[black!75, line width=1pt] coordinates {(0,3.7e-3)(1,3.45e-4)(2,4.2e-3)(3,7.0e-3)(5,0.0112)(6,0.0204)(7,0.0299)(8,0.0251)(9,0.031)(10,nan)(11,0.0367)(12,0.0367)(13,nan)(14,0.0278)(15,0.0278)};
\addlegendentry{0.5\%}
\addplot[black!75, dashed, line width=1pt] coordinates {(0,3.35e-3)(1,4e-5)(2,3.63e-3)(3,6.5e-3)(5,0.0104)(6,0.0194)(7,0.0293)(8,0.0243)(9,0.0299)(10,nan)(11,0.036)(12,0.036)(13,nan)(14,0.0272)(15,0.0272)};
\addlegendentry{0.6\%}
\addplot[ca, line width=1pt, forget plot] coordinates {(0,6.4e-3)(1,3.7e-3)(2,7.4e-3)(3,0.0106)(5,0.015)(6,0.0245)(7,0.0331)(8,0.0287)(9,0.0352)(10,nan)(11,0.0407)(12,0.0407)(13,nan)(14,0.0308)(15,0.0308)};
\node[big, align=left, anchor=north west] at (rel axis cs:0.246,0.985) {Modeling original ooid cortex\\REE + Y pattern (from SOM)};
\node[note] at (rel axis cs:0.93,0.715) {group \textit{a}};
\draw[-{Triangle[length=6pt,width=5pt]}, line width=0.7pt, axl] (rel axis cs:0.976,0.688) -- (rel axis cs:0.988,0.628);
\node[note, anchor=east] at (rel axis cs:1,0.242) {Deducted proportion of SOM-source REE};
\node[note, anchor=east] at (rel axis cs:1,0.06) {hypothetical contaminated ‘group \textit{a}’};
\node[tag] at (rel axis cs:0.07,0.953) {I};
\end{axis}
\end{tikzpicture}
\end{document}
